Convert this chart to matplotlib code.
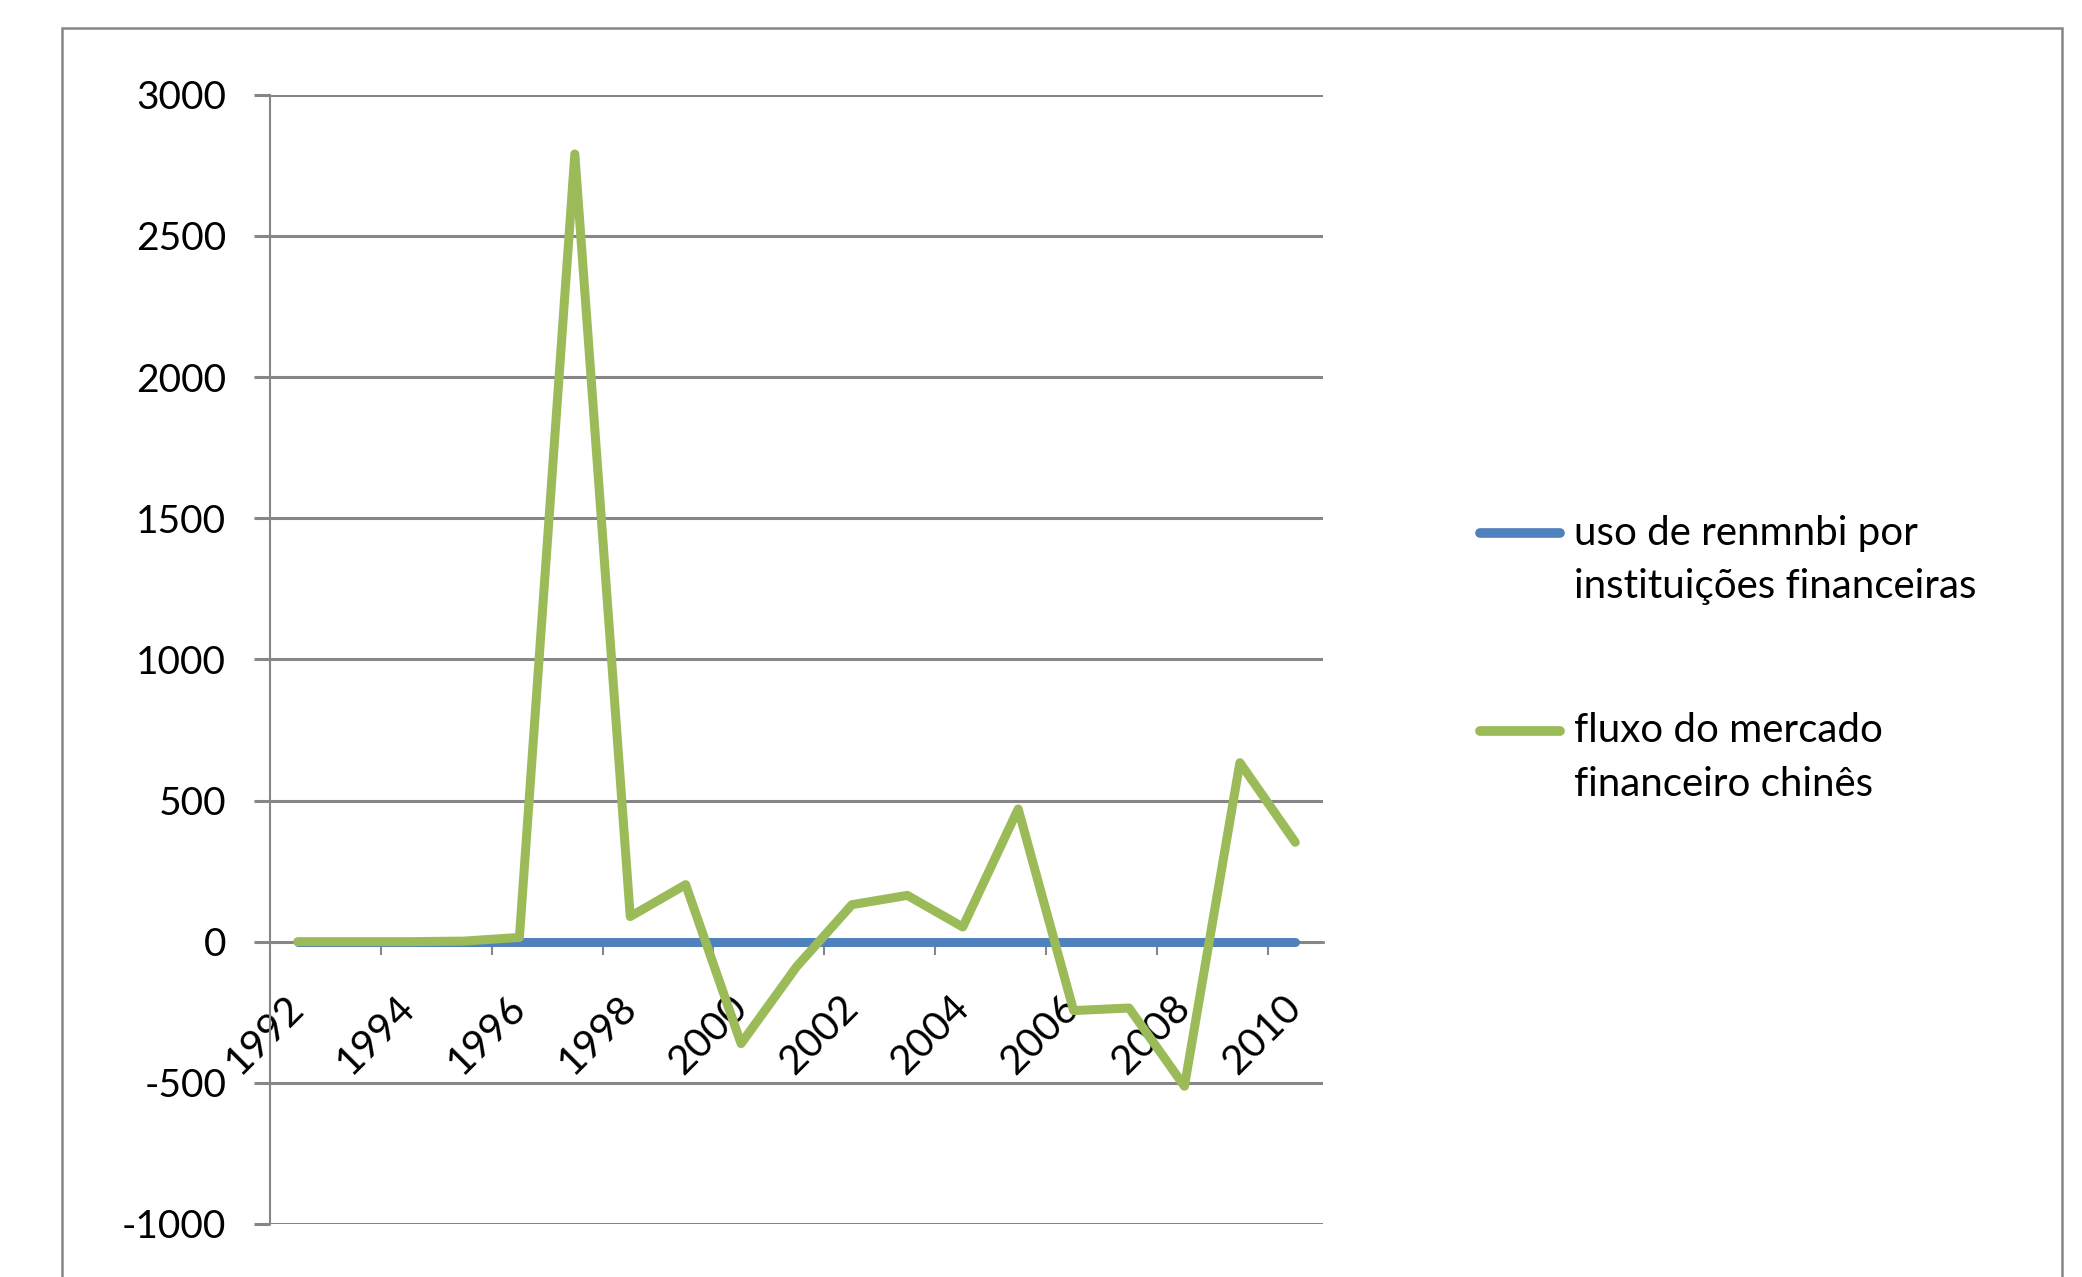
"""Line chart: uso de renmnbi vs fluxo do mercado financeiro chinês, 1992-2010."""
import matplotlib

matplotlib.use("Agg")

import matplotlib.pyplot as plt
from matplotlib.lines import Line2D
from matplotlib.patches import Rectangle

years = list(range(1992, 2011))
uso_renmnbi = [0] * len(years)
fluxo_mercado = [0, 0, 0, 2, 15, 2790, 89, 202, -361, -89, 131, 164, 52, 470,
                 -244, -235, -512, 634, 352]

legend_labels = [
    ["uso de renmnbi por", "instituições financeiras"],
    ["fluxo do mercado", "financeiro chinês"],
]
y_ticks = list(range(-1000, 3001, 500))

BLUE = "#4F81BD"
GREEN = "#9BBB59"
GRAY = "#868686"
FONT = "Lato"
W, H = 2082, 1277

plt.rcParams["font.family"] = [FONT, "DejaVu Sans"]

fig = plt.figure(figsize=(W / 100, H / 100), dpi=100)
ax = fig.add_axes([270 / W, 1 - 1224 / H, (1323 - 270) / W, (1224 - 94.7) / H])

x = list(range(len(years)))
ax.plot(x, uso_renmnbi, color=BLUE, lw=6.5, solid_capstyle="round", zorder=3)
ax.plot(x, fluxo_mercado, color=GREEN, lw=6.5, solid_capstyle="round",
        solid_joinstyle="round", zorder=4)

ax.set_xlim(-0.5, len(years) - 0.5)
ax.set_ylim(-1000, 3000)

# y axis: gridlines every 500
ax.set_yticks(y_ticks)
ax.set_yticklabels([str(v) for v in y_ticks])
ax.yaxis.grid(True, color=GRAY, lw=2.2)
ax.set_axisbelow(True)
ax.tick_params(axis="y", length=11.5, width=2.2, color=GRAY, pad=20,
               labelsize=28)

# x axis crosses at 0; tick marks on category boundaries, labels every 2 years
for s in ("top", "right"):
    ax.spines[s].set_visible(False)
ax.spines["left"].set_color(GRAY)
ax.spines["left"].set_linewidth(1.5)
ax.spines["bottom"].set_position(("data", 0))
ax.spines["bottom"].set_color(GRAY)
ax.spines["bottom"].set_linewidth(2)

ax.set_xticks([i + 1.5 for i in range(0, len(years) - 1, 2)])
ax.set_xticklabels([])
ax.tick_params(axis="x", which="major", length=9.5, width=1.5, color=GRAY,
               direction="out")
ax.set_xticks(x[::2], minor=True)
ax.set_xticklabels([str(y) for y in years[::2]], minor=True, rotation=45,
                   ha="right", va="center", rotation_mode="anchor")
ax.tick_params(axis="x", which="minor", length=0, pad=43, labelsize=29)

# legend, drawn by hand so the key sits on the first text line
key_y = [1 - 533 / H, 1 - 731 / H]
for i, (lines, color) in enumerate(zip(legend_labels, [BLUE, GREEN])):
    fig.add_artist(Line2D([1480 / W, 1560 / W], [key_y[i]] * 2, color=color,
                          lw=7, solid_capstyle="round"))
    for j, line in enumerate(lines):
        fig.text(1574 / W, key_y[i] - j * 53 / H, line, fontsize=29,
                 va="center", ha="left")

# outer chart-area frame (cut off at the bottom in the reference)
fig.add_artist(Rectangle((62 / W, -0.1), 2000 / W, 1.1 - 28 / H,
                         transform=fig.transFigure, fill=False,
                         edgecolor=GRAY, lw=1.8))

fig.savefig("out.png", dpi=100)
